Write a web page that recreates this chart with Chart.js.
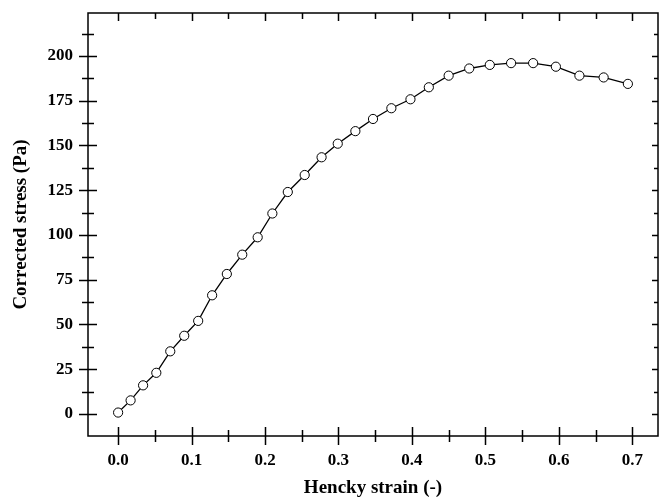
<!DOCTYPE html>
<html><head><meta charset="utf-8">
<script src="https://cdn.jsdelivr.net/npm/chart.js@4/dist/chart.umd.min.js"></script>
<style>html,body{margin:0;padding:0;background:#fff}#wrap{width:659px;height:500px}</style>
</head><body><div id="wrap"><canvas id="c" width="659" height="500"></canvas></div>
<script>
const strain = [0.000,0.017,0.034,0.052,0.071,0.090,0.109,0.128,0.148,0.169,0.190,0.210,0.231,0.254,0.277,0.299,0.323,0.347,0.372,0.398,0.423,0.450,0.478,0.506,0.535,0.565,0.596,0.628,0.661,0.694];
const stress = [0.8,7.6,16,23,35,43.7,52,66.3,78.2,89,98.7,112,124,133.5,143.4,151,158,164.8,170.8,175.8,182.5,189,193,195,196,196,194,189,188,184.4];
const xTicks = [0,0.1,0.2,0.3,0.4,0.5,0.6,0.7];
const yTicks = [0,25,50,75,100,125,150,175,200];

const tickPlugin = {
  id:'frameTicks',
  afterDatasetsDraw(chart){
    const ctx = chart.ctx, a = chart.chartArea, xs = chart.scales.x, ys = chart.scales.y;
    ctx.save();
    ctx.strokeStyle = '#000';
    ctx.lineWidth = 1.5;
    ctx.strokeRect(a.left, a.top, a.right - a.left, a.bottom - a.top);
    ctx.beginPath();
    for (let v = 0; v <= 0.7001; v += 0.05) {
      const major = Math.abs(v*10 - Math.round(v*10)) < 1e-6;
      const px = Math.round(xs.getPixelForValue(v)) + 0.5;
      const L = major ? 9 : 6;
      ctx.moveTo(px, a.bottom - L); ctx.lineTo(px, a.bottom + L);
      ctx.moveTo(px, a.top); ctx.lineTo(px, a.top + (major ? 8 : 6));
    }
    for (let v = 0; v <= 212.5; v += 12.5) {
      const major = Math.abs(v % 25) < 1e-6;
      const py = Math.round(ys.getPixelForValue(v)) + 0.5;
      const L = major ? 9 : 6;
      ctx.moveTo(a.left - L, py); ctx.lineTo(a.left + L, py);
      ctx.moveTo(a.right, py); ctx.lineTo(a.right - (major ? 6 : 4), py);
    }
    ctx.stroke();
    ctx.restore();
  }
};

new Chart(document.getElementById('c'), {
  type:'line',
  data:{ datasets:[{
    data: strain.map((x,i)=>({x, y: stress[i]})),
    borderColor:'#000', borderWidth:1.3,
    pointRadius:4.6, pointBorderWidth:1, pointBackgroundColor:'#fff', pointBorderColor:'#000',
    tension:0, fill:false
  }]},
  options:{
    responsive:false, animation:false, devicePixelRatio:1,
    layout:{autoPadding:false, padding:{top:13,right:1,left:0,bottom:0}},
    plugins:{legend:{display:false}, tooltip:{enabled:false}},
    scales:{
      x:{ type:'linear', min:-0.041, max:0.735,
        afterBuildTicks(s){ s.ticks = xTicks.map(v=>({value:v})); },
        afterFit(s){ s.height = 64; s.paddingLeft = 0; s.paddingRight = 0; },
        grid:{display:false, drawTicks:false}, border:{display:false},
        ticks:{ color:'#000', font:{family:'Liberation Serif', size:17, weight:'bold'}, padding:14, maxRotation:0,
          callback:v=>v.toFixed(1) },
        title:{display:true, text:'Hencky strain (-)', color:'#000', font:{family:'Liberation Serif', size:19, weight:'bold'}, padding:{top:0,bottom:1}}
      },
      y:{ type:'linear', min:-12.3, max:224,
        afterBuildTicks(s){ s.ticks = yTicks.map(v=>({value:v})); },
        afterFit(s){ s.width = 88; s.paddingTop = 0; s.paddingBottom = 0; },
        grid:{display:false, drawTicks:false}, border:{display:false},
        ticks:{ color:'#000', font:{family:'Liberation Serif', size:17, weight:'bold'}, padding:15,
          callback:v=>String(v) },
        title:{display:true, text:'Corrected stress (Pa)', color:'#000', font:{family:'Liberation Serif', size:19, weight:'bold'}, padding:{top:10,bottom:0}}
      }
    }
  },
  plugins:[tickPlugin]
});
</script></body></html>
